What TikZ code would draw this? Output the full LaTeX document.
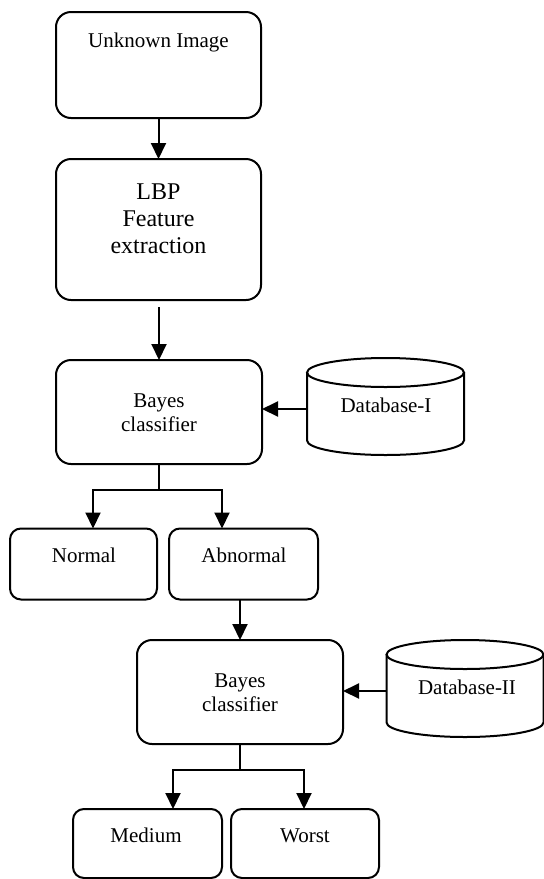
\documentclass[tikz,border=0pt]{standalone}
\usepackage{fontspec}
\setmainfont{Liberation Serif}
\usetikzlibrary{arrows.meta,calc}
\begin{document}
\begin{tikzpicture}[x=1pt,y=1pt,
  line/.style={line width=2pt},
  bigbox/.style={draw, line width=2pt, rounded corners=15pt, inner sep=0pt, outer sep=0pt},
  smallbox/.style={draw, line width=2pt, rounded corners=11pt, inner sep=0pt, outer sep=0pt},
  dbnode/.style={inner sep=0pt, outer sep=0pt, minimum width=157pt, minimum height=97pt},
  arr/.style={line width=2pt, -{Triangle[length=16pt,width=15pt]}},
  lbl/.style={font=\fontsize{21}{25}\selectfont, anchor=base, inner sep=0pt},
  biglbl/.style={font=\fontsize{24}{27}\selectfont, anchor=base, inner sep=0pt}]

\useasboundingbox (0,0) rectangle (544,-879);

% main processing boxes
\node[bigbox, minimum width=205pt, minimum height=106pt] (unk) at (158.5,-65) {};
\node[lbl] (unkT) at (158.5,-47) {Unknown Image};

\node[bigbox, minimum width=205pt, minimum height=141pt] (lbp) at (158.5,-229.5) {};
\node[biglbl] (lbpT1) at (158.5,-199) {LBP};
\node[biglbl] (lbpT2) at (158.5,-226.5) {Feature};
\node[biglbl] (lbpT3) at (158.5,-253) {extraction};

\node[bigbox, minimum width=206pt, minimum height=104pt] (bc1) at (159,-412) {};
\node[lbl] (bc1T1) at (159,-407) {Bayes};
\node[lbl] (bc1T2) at (159,-431.5) {classifier};

\node[dbnode] (db1) at (385.5,-406.5) {};
\node[lbl] (db1T) at (386,-412) {Database-I};

% first-level outcomes
\node[smallbox, minimum width=147pt, minimum height=71pt] (normal) at (83.5,-564) {};
\node[lbl] (normalT) at (84,-562) {Normal};
\node[smallbox, minimum width=149pt, minimum height=71pt] (abn) at (243.5,-564) {};
\node[lbl] (abnT) at (244,-562) {Abnormal};

% second classifier
\node[bigbox, minimum width=206pt, minimum height=104pt] (bc2) at (240,-692) {};
\node[lbl] (bc2T1) at (240,-687) {Bayes};
\node[lbl] (bc2T2) at (240,-711.5) {classifier};

\node[dbnode] (db2) at (465,-688.5) {};
\node[lbl] (db2T) at (467,-694) {Database-II};

% severity outcomes
\node[smallbox, minimum width=149pt, minimum height=69pt] (medium) at (147.5,-843.5) {};
\node[lbl] (mediumT) at (146,-842) {Medium};
\node[smallbox, minimum width=148pt, minimum height=69pt] (worst) at (305,-843.5) {};
\node[lbl] (worstT) at (305,-842) {Worst};

% database cylinders
\foreach \d in {db1,db2}{
  \draw[line] ([yshift=-14.5pt]\d.north) ellipse [x radius=78.5, y radius=14.5];
  \draw[line] ([yshift=-14.5pt]\d.north west) -- ([yshift=14.5pt]\d.south west)
    arc[start angle=180, end angle=360, x radius=78.5, y radius=14.5]
    -- ([yshift=-14.5pt]\d.north east);
}

% connectors
\draw[arr] (unk) -- (lbp);
\draw[arr] ([yshift=-7pt]lbp.south -| bc1.north) -- (bc1.north);
\draw[arr] ([yshift=-2.5pt]db1.west) -- ([yshift=-2.5pt]db1.west -| bc1.east);

\coordinate (j1) at (159,-490);
\draw[line] (bc1.south) -- (j1);
\draw[arr] (j1) -| ([xshift=9.5pt]normal.north);
\draw[arr] (j1) -| ([xshift=-21.5pt]abn.north);

\draw[arr] (abn.south -| bc2.north) -- (bc2.north);
\draw[arr] ([yshift=-2.5pt]db2.west) -- ([yshift=-2.5pt]db2.west -| bc2.east);

\coordinate (j2) at (240,-770);
\draw[line] (bc2.south) -- (j2);
\draw[arr] (j2) -| ([xshift=25.5pt]medium.north);
\draw[arr] (j2) -| ([xshift=-1pt]worst.north);
\end{tikzpicture}
\end{document}
